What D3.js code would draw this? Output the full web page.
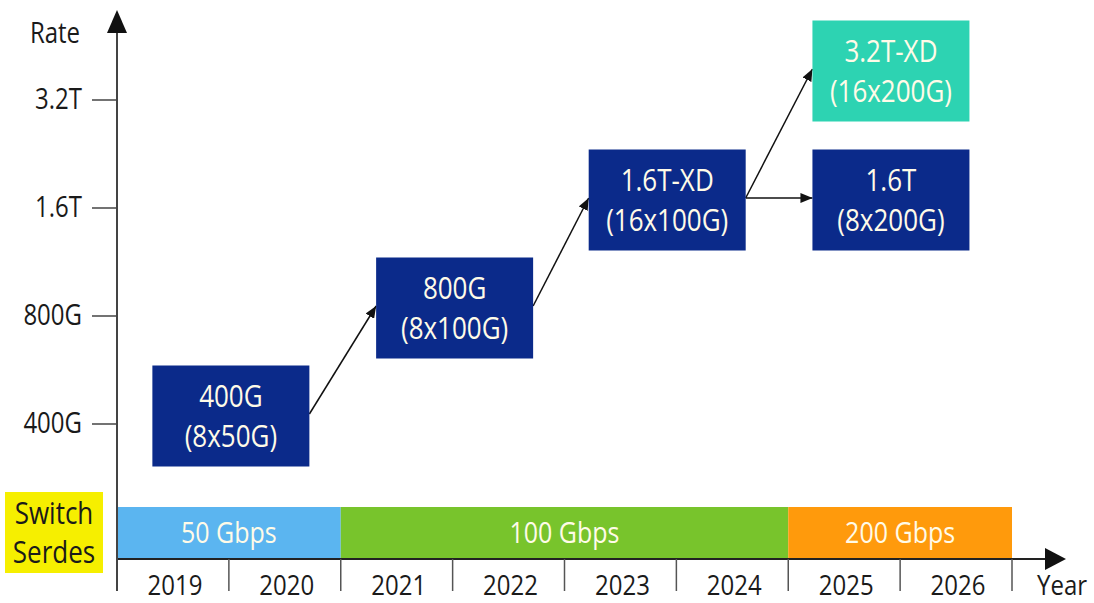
<!DOCTYPE html>
<html>
<head>
<meta charset="utf-8">
<script src="https://cdn.jsdelivr.net/npm/d3@7/dist/d3.min.js"></script>
<style>
  html, body { margin: 0; padding: 0; background: #fff; }
  svg { display: block; font-family: "Open Sans", "Noto Sans", sans-serif; }
</style>
</head>
<body>
<svg id="chart" width="1094" height="603"></svg>
<script>
// ---------- data ----------
const years = ["2019", "2020", "2021", "2022", "2023", "2024", "2025", "2026"];
const rateTicks = [400, 800, 1600, 3200];                 // Gbps
const rateTickLabels = ["400G", "800G", "1.6T", "3.2T"];

const serdesNames = ["50 Gbps", "100 Gbps", "200 Gbps"];
const serdesStart = [2019, 2021, 2025];
const serdesEnd = [2021, 2025, 2027];
const serdesColors = ["#5bb5f0", "#78c42c", "#ff9a0c"];

const productNames = ["400G", "800G", "1.6T-XD", "1.6T", "3.2T-XD"];
const productLanes = ["(8x50G)", "(8x100G)", "(16x100G)", "(8x200G)", "(16x200G)"];
const productRate = [400, 800, 1600, 1600, 3200];
const productYear = [2020.0, 2022.0, 2023.9, 2025.9, 2025.9];
const productColors = ["#0b2a8a", "#0b2a8a", "#0b2a8a", "#0b2a8a", "#2dd3b2"];

const linkFrom = [0, 1, 2, 2];
const linkTo = [1, 2, 4, 3];

// ---------- layout ----------
const svg = d3.select("#chart");
const x = d3.scaleLinear().domain([2019, 2027]).range([117, 1012]);
const y = d3.scaleLog().base(2).domain([400, 3200]).range([424, 100]);

const axisY = 559;           // x-axis baseline
const bandH = 52;
const boxW = 157, boxH = 101;
const textStretch = 1.2;
const textColor = "#1a1a1a";

function stretchedText(g, tx, ty, str, opts) {
  const gg = g.append("g").attr("transform", `translate(${tx},${ty}) scale(1,${opts.stretch || textStretch})`);
  gg.append("text")
    .attr("x", 0).attr("y", 0).attr("dy", "0.35em")
    .attr("text-anchor", opts.anchor || "middle")
    .attr("font-size", opts.size || 24)
    .attr("fill", opts.fill || textColor)
    .text(str);
  return gg;
}

// arrow marker
const defs = svg.append("defs");
defs.append("marker")
  .attr("id", "arrowSmall")
  .attr("viewBox", "0 0 12 10")
  .attr("refX", 12).attr("refY", 5)
  .attr("markerWidth", 12).attr("markerHeight", 10)
  .attr("markerUnits", "userSpaceOnUse")
  .attr("orient", "auto")
  .append("path").attr("d", "M0,0 L12,5 L0,10 Z").attr("fill", "#111");

// ---------- serdes bands ----------
const bands = svg.append("g");
serdesNames.forEach((name, i) => {
  const x0 = x(serdesStart[i]), x1 = x(serdesEnd[i]);
  bands.append("rect")
    .attr("x", x0).attr("y", axisY - bandH)
    .attr("width", x1 - x0).attr("height", bandH)
    .attr("fill", serdesColors[i]);
  stretchedText(bands, (x0 + x1) / 2, axisY - bandH / 2 - 1, name, { size: 25, fill: "#fffbe8" });
});

// ---------- Switch Serdes label ----------
const sw = svg.append("g");
sw.append("rect").attr("x", 5).attr("y", 492).attr("width", 98).attr("height", 81).attr("fill", "#f6ef00");
stretchedText(sw, 54, 513, "Switch", { size: 26 });
stretchedText(sw, 54, 552, "Serdes", { size: 26 });

// ---------- x axis (years) ----------
const xa = svg.append("g");
xa.append("line")
  .attr("x1", x(2019)).attr("x2", 1048).attr("y1", axisY).attr("y2", axisY)
  .attr("stroke", "#222").attr("stroke-width", 2);
xa.append("path")
  .attr("d", `M1045,${axisY - 11} L1066,${axisY} L1045,${axisY + 11} Z`)
  .attr("fill", "#111");
d3.range(1, years.length + 1).forEach(k => {
  xa.append("line")
    .attr("x1", x(2019 + k)).attr("x2", x(2019 + k))
    .attr("y1", axisY).attr("y2", 591)
    .attr("stroke", "#555").attr("stroke-width", 1.5);
});
years.forEach((yr, i) => {
  stretchedText(xa, (x(2019 + i) + x(2020 + i)) / 2 + 2, 585, yr, { size: 24, stretch: 1.15 });
});
stretchedText(xa, 1037, 585, "Year", { size: 24, anchor: "start", stretch: 1.15 });

// ---------- y axis (rate) ----------
const ya = svg.append("g");
ya.append("line")
  .attr("x1", x(2019)).attr("x2", x(2019)).attr("y1", 30).attr("y2", 591)
  .attr("stroke", "#444").attr("stroke-width", 2);
ya.append("path")
  .attr("d", `M${x(2019) - 10},33 L${x(2019)},10 L${x(2019) + 10},33 Z`)
  .attr("fill", "#111");
rateTicks.forEach((r, i) => {
  ya.append("line")
    .attr("x1", 92).attr("x2", x(2019)).attr("y1", y(r)).attr("y2", y(r))
    .attr("stroke", "#444").attr("stroke-width", 1.5);
  stretchedText(ya, 82, y(r) - 1, rateTickLabels[i], { size: 24, anchor: "end" });
});
stretchedText(ya, 55, 33, "Rate", { size: 24 });

// ---------- product boxes ----------
const boxes = productNames.map((n, i) => ({
  cx: x(productYear[i]) + 2,
  cy: y(productRate[i]) - 8,
  i
}));
// avoid overlap between boxes in the same column: push the higher-rate box upward
const minGap = 28;
boxes.forEach(b => {
  boxes.forEach(o => {
    if (o !== b && Math.abs(o.cx - b.cx) < boxW && productRate[b.i] > productRate[o.i]) {
      const need = o.cy - boxH - minGap;
      if (b.cy > need) b.cy = need;
    }
  });
});

// links: from right-edge middle of source to left-edge middle of target
const links = svg.append("g");
linkFrom.forEach((f, k) => {
  const a = boxes[f], b = boxes[linkTo[k]];
  links.append("line")
    .attr("x1", a.cx + boxW / 2).attr("y1", a.cy - 2)
    .attr("x2", b.cx - boxW / 2).attr("y2", b.cy - 2)
    .attr("stroke", "#111").attr("stroke-width", 1.5)
    .attr("marker-end", "url(#arrowSmall)");
});

const bx = svg.append("g");
boxes.forEach(b => {
  bx.append("rect")
    .attr("x", b.cx - boxW / 2).attr("y", b.cy - boxH / 2)
    .attr("width", boxW).attr("height", boxH)
    .attr("fill", productColors[b.i]);
  stretchedText(bx, b.cx, b.cy - 20, productNames[b.i], { size: 26, fill: "#fffbe8" });
  stretchedText(bx, b.cx, b.cy + 20, productLanes[b.i], { size: 26, fill: "#fffbe8" });
});
</script>
</body>
</html>
